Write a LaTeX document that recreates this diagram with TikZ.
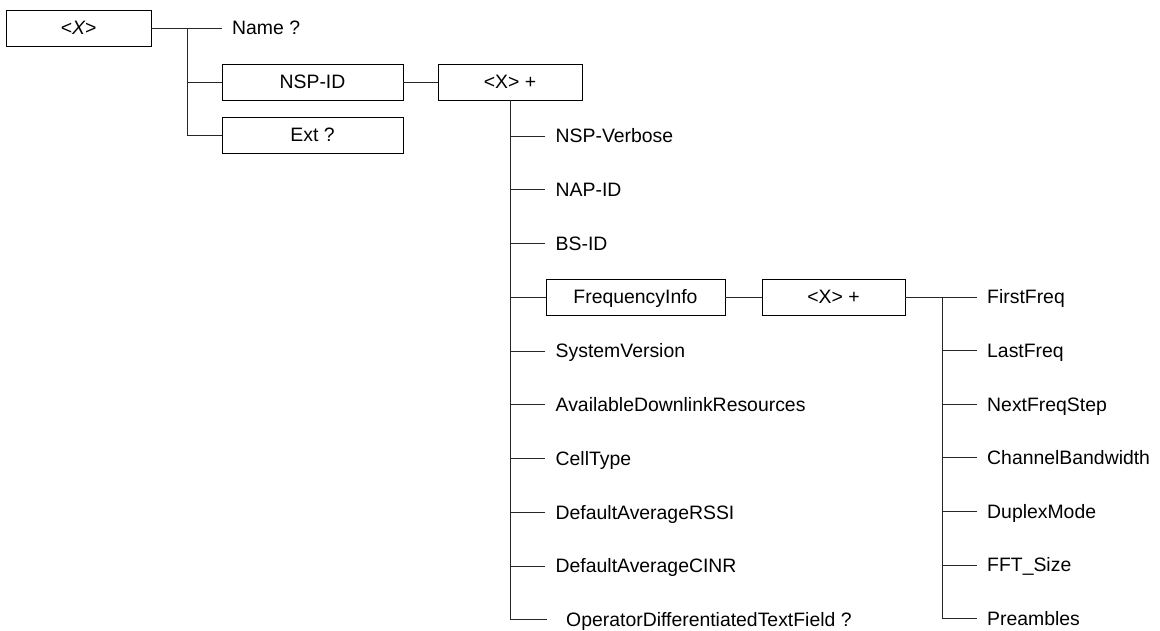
\documentclass[tikz,border=0pt]{standalone}
\usepackage{fontspec}
\setmainfont{Liberation Sans}
\begin{document}
\begin{tikzpicture}[x=1pt,y=-1pt,
  every node/.style={font=\fontsize{19.4}{22}\selectfont, text height=17.9pt, text depth=4pt},
  box/.style={draw=black, line width=0.9pt, minimum height=36pt, inner sep=0pt},
  leaf/.style={anchor=west, inner ysep=0pt, inner xsep=10.5pt},
  wire/.style={draw=black!85, line width=0.9pt}]
\useasboundingbox (0,0) rectangle (1160,630);
% boxes
\node[box, minimum width=145pt] (root) at (78.5,28) {\itshape <X>};
\node[box, minimum width=181pt] (nspid) at (312.5,82) {NSP-ID};
\node[box, minimum width=181pt] (ext) at (312.5,135) {Ext ?};
\node[box, minimum width=144pt] (xa) at (510,82) {<X> +};
\node[box, minimum width=179pt] (freq) at (635.5,297) {FrequencyInfo};
\node[box, minimum width=143pt] (xb) at (833.5,297) {<X> +};
% first level leaf
\node[leaf, inner xsep=10pt] (name) at (222,28) {Name ?};
% middle column
\node[leaf] (nspv) at (545,136) {NSP-Verbose};
\node[leaf] (napid) at (545,189.75) {NAP-ID};
\node[leaf] (bsid) at (545,243.5) {BS-ID};
\node[leaf] (sysv) at (545,351) {SystemVersion};
\node[leaf] (adr) at (545,404.75) {AvailableDownlinkResources};
\node[leaf] (cell) at (545,458.5) {CellType};
\node[leaf] (rssi) at (545,512.25) {DefaultAverageRSSI};
\node[leaf] (cinr) at (545,566) {DefaultAverageCINR};
\node[leaf, inner xsep=19pt] (odtf) at (547,619.75) {OperatorDifferentiatedTextField ?};
% right column
\node[leaf, inner xsep=10pt] (ff) at (977,297) {FirstFreq};
\node[leaf, inner xsep=10pt] (lf) at (977,350.6) {LastFreq};
\node[leaf, inner xsep=10pt] (nfs) at (977,404.2) {NextFreqStep};
\node[leaf, inner xsep=10pt] (cbw) at (977,457.8) {ChannelBandwidth};
\node[leaf, inner xsep=10pt] (dm) at (977,511.4) {DuplexMode};
\node[leaf, inner xsep=10pt] (fft) at (977,565) {FFT\_Size};
\node[leaf, inner xsep=10pt] (pre) at (977,618.6) {Preambles};
% junctions
\coordinate (ja) at (187,28);
\coordinate (jb) at (942,297);
% connectors
\path[wire] (root.east) -- (name.west);
\path[wire] (ja) |- (nspid.west);
\path[wire] (ja) |- (ext.west);
\path[wire] (nspid.east) -- (xa.west);
\foreach \n in {nspv,napid,bsid,freq,sysv,adr,cell,rssi,cinr,odtf}
  \path[wire] (xa.south) |- (\n.west);
\path[wire] (freq.east) -- (xb.west);
\path[wire] (xb.east) -- (ff.west);
\foreach \n in {lf,nfs,cbw,dm,fft,pre}
  \path[wire] (jb) |- (\n.west);
\end{tikzpicture}
\end{document}
